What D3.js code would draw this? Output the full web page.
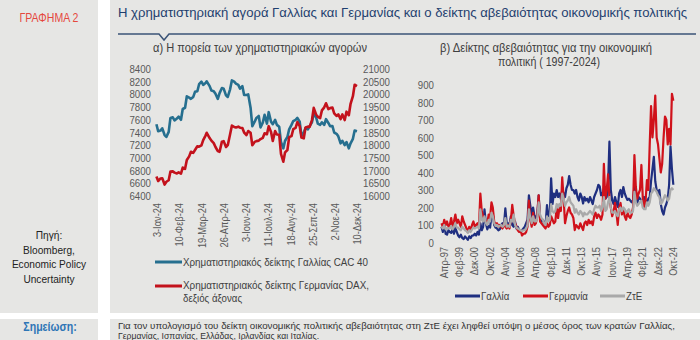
<!DOCTYPE html>
<html><head><meta charset="utf-8">
<script src="https://cdn.jsdelivr.net/npm/d3@7"></script>
<style>
html,body{margin:0;padding:0;background:#fff;}
svg{display:block;font-family:"Liberation Sans Narrow","Arial Narrow","Liberation Sans",sans-serif;}
</style></head><body>
<svg id="c" width="700" height="340"></svg>
<script>
// ---------- DATA: panel (a) stock indices 2024 ----------
const stockDates = [
 "2024-01-02","2024-01-05","2024-01-09","2024-01-12","2024-01-16","2024-01-19","2024-01-23","2024-01-26","2024-01-30",
 "2024-02-02","2024-02-06","2024-02-09","2024-02-13","2024-02-16","2024-02-20","2024-02-23","2024-02-27",
 "2024-03-01","2024-03-05","2024-03-08","2024-03-12","2024-03-15","2024-03-19","2024-03-22","2024-03-26","2024-03-28",
 "2024-04-02","2024-04-05","2024-04-09","2024-04-12","2024-04-16","2024-04-19","2024-04-23","2024-04-26","2024-04-30",
 "2024-05-03","2024-05-07","2024-05-10","2024-05-14","2024-05-17","2024-05-21","2024-05-24","2024-05-28","2024-05-31",
 "2024-06-04","2024-06-07","2024-06-11","2024-06-14","2024-06-18","2024-06-21","2024-06-25","2024-06-28",
 "2024-07-02","2024-07-05","2024-07-09","2024-07-12","2024-07-16","2024-07-19","2024-07-23","2024-07-26","2024-07-30",
 "2024-08-02","2024-08-06","2024-08-09","2024-08-13","2024-08-16","2024-08-20","2024-08-23","2024-08-27","2024-08-30",
 "2024-09-03","2024-09-06","2024-09-10","2024-09-13","2024-09-17","2024-09-20","2024-09-24","2024-09-27",
 "2024-10-01","2024-10-04","2024-10-08","2024-10-11","2024-10-15","2024-10-18","2024-10-22","2024-10-25","2024-10-29",
 "2024-11-01","2024-11-05","2024-11-08","2024-11-12","2024-11-15","2024-11-19","2024-11-22","2024-11-26","2024-11-29",
 "2024-12-03","2024-12-06","2024-12-10"];
const cac40 = [
 7530,7420,7430,7465,7360,7330,7410,7630,7640,
 7590,7620,7650,7600,7770,7790,7970,7950,
 7930,7960,8040,8050,8160,8200,8150,8180,8205,
 8130,8060,8050,8010,7930,8020,8100,8090,7985,
 7960,8080,8220,8200,8170,8150,8090,8130,7990,
 7990,8000,7790,7500,7570,7630,7660,7480,
 7560,7680,7540,7720,7570,7530,7600,7520,7490,
 7250,7150,7270,7330,7450,7520,7580,7600,7630,
 7570,7350,7400,7470,7450,7500,7560,7700,
 7640,7540,7520,7560,7520,7610,7550,7500,7500,
 7400,7380,7340,7230,7270,7200,7250,7150,7230,
 7300,7430,7420];
const dax = [
 16770,16590,16690,16700,16450,16560,16620,16960,16970,
 16920,16890,16930,16880,17120,17070,17420,17560,
 17740,17700,17810,17960,17940,17990,18200,18380,18490,
 18280,18180,18080,17930,17770,17740,18140,18160,17930,
 18000,18430,18770,18720,18700,18730,18690,18680,18500,
 18400,18560,18490,18000,18130,18160,18180,18240,
 18290,18470,18430,18750,18520,18170,18560,18420,18410,
 17660,17350,17720,17810,18320,18360,18630,18680,18910,
 18750,18300,18270,18700,18730,18720,18990,19470,
 19210,19120,19070,19370,19490,19650,19420,19460,19480,
 19250,19150,19210,19030,19210,18990,19320,19180,19630,
 19930,20380,20330];
const stockTickDates = ["2024-01-03","2024-02-10","2024-03-19","2024-04-26","2024-06-03","2024-07-11","2024-08-18","2024-09-25","2024-11-02","2024-12-10"];
const cacTicks = [6400,6600,6800,7000,7200,7400,7600,7800,8000,8200,8400];
const daxTicks = [16000,16500,17000,17500,18000,18500,19000,19500,20000,20500,21000];
const greekMonths = ["Ιαν","Φεβ","Μαρ","Απρ","Μαϊ","Ιουν","Ιουλ","Αυγ","Σεπ","Οκτ","Νοε","Δεκ"];

// ---------- DATA: panel (b) economic policy uncertainty, bimonthly from Jan 1997 ----------
const epuFirstMonth = "1997-01";
const epuFrance = [
 90,60,110,50,45,70, 60,55,75,50,85,60, 40,30,45,25,20,35, 25,15,35,25,40,40,
 50,40,60,45,110,70, 90,190,110,75,95,85, 150,160,100,85,80,70, 75,100,110,95,195,110,
 110,100,150,100,90,120, 80,90,70,60,70,80, 90,110,130,270,210,150, 200,150,140,160,270,140,
 120,130,110,100,214,150, 150,367,220,280,260,300, 260,280,250,300,280,260, 310,330,380,330,300,300,
 280,300,260,240,280,260, 223,260,240,250,230,260, 240,220,260,280,300,330, 320,270,280,300,250,260,
 330,576,300,240,220,260, 230,203,280,300,260,317, 280,260,243,250,240,230, 240,320,280,223,260,250,
 240,230,260,240,230,250, 260,350,420,490,350,300, 280,300,220,180,160,200, 220,250,330,550,420,330];
const epuGermany = [
 110,90,130,100,120,90, 100,140,90,120,160,110, 130,110,90,150,120,100, 80,60,90,70,100,120,
 90,100,110,90,280,180, 150,130,120,110,160,140, 230,200,120,100,110,90, 100,90,80,110,90,80,
 100,80,130,215,150,110, 90,70,60,70,40,50, 50,60,90,240,130,90, 170,100,110,150,270,120,
 110,100,90,80,110,90, 100,150,130,110,120,200, 140,200,180,372,250,110, 150,180,200,170,160,140,
 71,100,90,80,110,90, 71,110,120,100,130,110, 120,100,150,170,140,160, 150,130,160,450,250,300,
 390,250,200,150,180,226, 170,100,200,226,160,190, 150,130,169,150,140,160, 200,500,319,250,280,300,
 443,260,203,230,357,300, 560,780,600,700,840,600, 560,480,400,450,600,720, 700,560,650,560,850,810];
const epuEuroArea = [
 90,80,100,75,85,80, 80,95,75,90,110,85, 85,75,70,90,80,70, 65,55,70,60,75,85,
 80,85,90,80,190,130, 120,150,110,100,130,120, 170,150,110,95,100,90, 95,100,90,100,140,90,
 95,90,130,120,160,100, 85,80,75,70,65,70, 70,80,100,190,140,110, 150,120,120,140,230,160,
 140,130,110,100,150,120, 130,220,180,170,180,220, 200,220,210,280,250,210, 230,240,260,230,220,210,
 170,190,170,160,180,170, 150,170,160,160,170,180, 170,160,190,210,200,200, 210,180,200,260,180,190,
 230,260,200,170,170,180, 160,150,190,200,180,200, 190,170,180,190,170,170, 180,290,230,210,220,230,
 240,200,190,190,230,210, 230,280,290,310,300,290, 270,260,220,230,250,270, 260,240,250,300,310,300];
const epuTickMonths = ["1997-04","1999-02","2000-12","2002-10","2004-08","2006-06","2008-04","2010-02","2011-12","2013-10","2015-08","2017-06","2019-04","2021-02","2022-12","2024-10"];
const epuTicks = [0,100,200,300,400,500,600,700,800,900];

// ---------- DRAW ----------
const svg = d3.select("#c");
const bg = "#e6e6e4";
svg.append("rect").attr("width",700).attr("height",340).attr("fill","#fff");
svg.append("rect").attr("x",0).attr("y",0).attr("width",98).attr("height",313).attr("fill",bg);
svg.append("rect").attr("x",110).attr("y",0).attr("width",590).attr("height",313).attr("fill",bg);
svg.append("rect").attr("x",0).attr("y",319).attr("width",98).attr("height",21).attr("fill",bg);
svg.append("rect").attr("x",110).attr("y",319).attr("width",590).attr("height",21).attr("fill",bg);

svg.append("text").attr("x",49).attr("y",18).attr("text-anchor","middle").attr("dominant-baseline","central")
  .attr("font-size",12).attr("fill","#e5473d").text("ΓΡΑΦΗΜΑ 2");
svg.append("text").attr("x",118).attr("y",13).attr("dominant-baseline","central")
  .attr("font-size",12.4).attr("fill","#1f3f6f").attr("data-w",569)
  .text("Η χρηματιστηριακή αγορά Γαλλίας και Γερμανίας και ο δείκτης αβεβαιότητας οικονομικής πολιτικής");
svg.append("path").attr("d","M118,34 H159 L164,40 L169,34 H696").attr("fill","none")
  .attr("stroke","#3b5477").attr("stroke-width",1.5);

const src = ["Πηγή:","Bloomberg,","Economic Policy","Uncertainty"];
src.forEach((s,i)=>svg.append("text").attr("x",49).attr("y",235+i*14.7).attr("text-anchor","middle")
  .attr("dominant-baseline","central").attr("font-size",11.5).attr("fill","#222").text(s));

svg.append("text").attr("x",50).attr("y",327).attr("text-anchor","middle").attr("dominant-baseline","central")
  .attr("font-size",12).attr("font-weight","bold").attr("fill","#2e75b6").text("Σημείωση:");
svg.append("text").attr("x",118).attr("y",325).attr("dominant-baseline","central").attr("font-size",9.8).attr("fill","#333")
  .attr("data-w",557)
  .text("Για τον υπολογισμό του δείκτη οικονομικής πολιτικής αβεβαιότητας στη ΖτΕ έχει ληφθεί υπόψη ο μέσος όρος των κρατών Γαλλίας,");
svg.append("text").attr("x",118).attr("y",335).attr("dominant-baseline","central").attr("font-size",9.8).attr("fill","#333")
  .text("Γερμανίας, Ισπανίας, Ελλάδας, Ιρλανδίας και Ιταλίας.");

const labCol = "#595959";
function styleAxis(g, size){
  g.select(".domain").remove();
  g.selectAll("text").attr("fill",labCol).attr("font-size",size)
    .attr("font-family",'"Liberation Sans Narrow","Arial Narrow","Liberation Sans",sans-serif');
}

// ----- panel (a)
svg.append("text").attr("x",260).attr("y",48).attr("text-anchor","middle").attr("dominant-baseline","central")
  .attr("font-size",12).attr("fill","#404040").attr("data-w",214).text("α) Η πορεία των χρηματιστηριακών αγορών");
const parse = d3.timeParse("%Y-%m-%d");
const xA = d3.scaleTime([parse("2024-01-03"), parse("2024-12-10")],[157,357]);
const yCac = d3.scaleLinear([6400,8400],[196,69]);
const yDax = d3.scaleLinear([16000,21000],[196,69]);
const fmtA = d => `${d.getDate()}-${greekMonths[d.getMonth()]}-${String(d.getFullYear()).slice(2)}`;

svg.append("g").attr("transform","translate(151,0)")
  .call(d3.axisLeft(yCac).tickValues(cacTicks).tickSize(0).tickPadding(0).tickFormat(d3.format("d")))
  .call(g=>styleAxis(g,11));
svg.append("g").attr("transform","translate(363,0)")
  .call(d3.axisRight(yDax).tickValues(daxTicks).tickSize(0).tickPadding(0).tickFormat(d3.format("d")))
  .call(g=>styleAxis(g,11));
svg.append("g").attr("transform","translate(0,202)")
  .call(d3.axisBottom(xA).tickValues(stockTickDates.map(parse)).tickSize(0).tickFormat(fmtA))
  .call(g=>styleAxis(g,10.5))
  .call(g=>g.selectAll("text").attr("transform","rotate(-90)").attr("text-anchor","end")
     .attr("x",-1).attr("y",0).attr("dy","0.35em"));

const sd = stockDates.map(parse);
svg.append("path").datum(d3.range(sd.length)).attr("fill","none").attr("stroke","#266f8f").attr("stroke-width",2.6)
  .attr("stroke-linejoin","round").attr("d",d3.line().x(i=>xA(sd[i])).y(i=>yCac(cac40[i])));
svg.append("path").datum(d3.range(sd.length)).attr("fill","none").attr("stroke","#c3121c").attr("stroke-width",2.6)
  .attr("stroke-linejoin","round").attr("d",d3.line().x(i=>xA(sd[i])).y(i=>yDax(dax[i])));

// legend (a)
svg.append("line").attr("x1",155).attr("x2",182).attr("y1",262).attr("y2",262).attr("stroke","#266f8f").attr("stroke-width",3);
svg.append("text").attr("x",183).attr("y",262).attr("dominant-baseline","central").attr("font-size",11).attr("fill","#404040")
  .attr("data-w",185).text("Χρηματιστηριακός δείκτης Γαλλίας CAC 40");
svg.append("line").attr("x1",155).attr("x2",182).attr("y1",286).attr("y2",286).attr("stroke","#c3121c").attr("stroke-width",3);
svg.append("text").attr("x",183).attr("y",285).attr("dominant-baseline","central").attr("font-size",11).attr("fill","#404040")
  .attr("data-w",186).text("Χρηματιστηριακός δείκτης Γερμανίας DAX,");
svg.append("text").attr("x",183).attr("y",298).attr("dominant-baseline","central").attr("font-size",11).attr("fill","#404040")
  .text("δεξιός άξονας");

// ----- panel (b)
svg.append("text").attr("x",546).attr("y",48).attr("text-anchor","middle").attr("dominant-baseline","central")
  .attr("font-size",12).attr("fill","#404040").attr("data-w",212).text("β) Δείκτης αβεβαιότητας για την οικονομική");
svg.append("text").attr("x",549).attr("y",62).attr("text-anchor","middle").attr("dominant-baseline","central")
  .attr("font-size",12).attr("fill","#404040").attr("data-w",102).text("πολιτική ( 1997-2024)");
const parseM = d3.timeParse("%Y-%m");
const xB = d3.scaleTime([parseM("1997-01"), parseM("2024-12")],[441.5,674]);
const yB = d3.scaleLinear([0,900],[242.5,85]);
const fmtB = d => `${greekMonths[d.getMonth()]}-${String(d.getFullYear()).slice(2)}`;
svg.append("g").attr("transform","translate(434,0)")
  .call(d3.axisLeft(yB).tickValues(epuTicks).tickSize(0).tickPadding(0))
  .call(g=>styleAxis(g,11));
svg.append("g").attr("transform","translate(0,246)")
  .call(d3.axisBottom(xB).tickValues(epuTickMonths.map(parseM)).tickSize(0).tickFormat(fmtB))
  .call(g=>styleAxis(g,10.5))
  .call(g=>g.selectAll("text").attr("transform","rotate(-90)").attr("text-anchor","end")
     .attr("x",-1).attr("y",0).attr("dy","0.35em"));
const m0 = parseM(epuFirstMonth);
const epuDates = epuFrance.map((_,i)=>d3.timeMonth.offset(m0, 2*i));
const epuSeries = [[epuFrance,"#1f2f80"],[epuGermany,"#d0121b"],[epuEuroArea,"#a9a9a9"]];
epuSeries.forEach(([vals,col])=>{
  svg.append("path").datum(d3.range(vals.length)).attr("fill","none").attr("stroke",col).attr("stroke-width",2.2)
    .attr("stroke-linejoin","round").attr("d",d3.line().x(i=>xB(epuDates[i])).y(i=>yB(vals[i])));
});
// legend (b)
const legB = [["Γαλλία","#1f2f80",455],["Γερμανία","#d0121b",523],["ΖτΕ","#a9a9a9",600]];
legB.forEach(([t,c,x])=>{
  svg.append("line").attr("x1",x).attr("x2",x+25).attr("y1",296).attr("y2",296).attr("stroke",c).attr("stroke-width",3);
  svg.append("text").attr("x",x+26).attr("y",296).attr("dominant-baseline","central").attr("font-size",11).attr("fill","#404040").text(t);
});

// condense all text to imitate the narrow typeface of the original
svg.selectAll("text").each(function(){
  const w = this.getAttribute("data-w");
  const L = this.getComputedTextLength();
  const target = w ? +w : L*0.88;
  d3.select(this).attr("textLength",target).attr("lengthAdjust","spacingAndGlyphs");
});
</script>
</body></html>
